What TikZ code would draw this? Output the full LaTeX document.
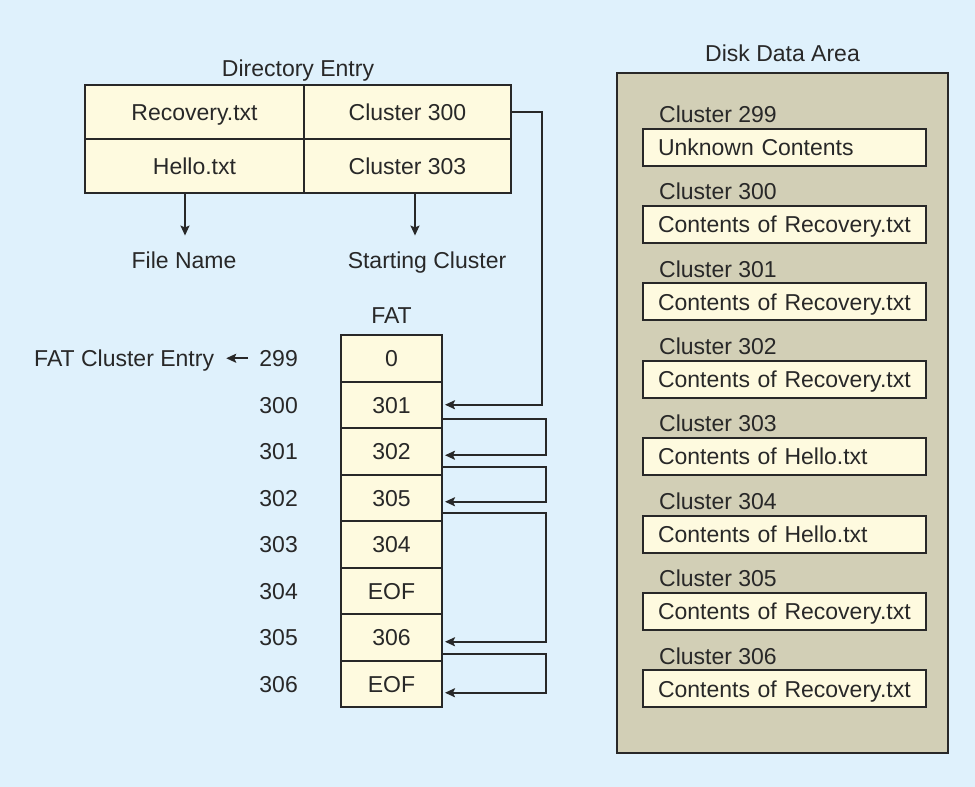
\documentclass[tikz,border=0pt]{standalone}
\usepackage{fontspec}
\setmainfont{Liberation Sans}
\usetikzlibrary{positioning,arrows.meta}
\definecolor{bgblue}{RGB}{223,241,252}
\definecolor{cellyellow}{RGB}{254,250,223}
\definecolor{diskkhaki}{RGB}{210,207,182}
\definecolor{inkgray}{RGB}{40,40,40}
\tikzset{
	txt/.style={text=inkgray, font=\fontsize{23}{27}\selectfont, inner sep=2pt, text height=16.5pt, text depth=0pt},
	dircell/.style={txt, draw=inkgray, line width=2pt, fill=cellyellow, minimum height=54pt, inner sep=0pt, outer sep=0pt},
	fatcell/.style={txt, draw=inkgray, line width=2pt, fill=cellyellow, minimum width=101pt, minimum height=46.5pt, inner sep=0pt, outer sep=0pt},
	diskcell/.style={txt, draw=inkgray, line width=2pt, fill=cellyellow, text width=253pt, inner xsep=15pt, inner ysep=0pt, minimum height=37pt, align=left, outer sep=0pt},
	diskbox/.style={draw=inkgray, line width=2pt, fill=diskkhaki, minimum width=331pt, minimum height=680pt, outer sep=0pt},
	link/.style={draw=inkgray, line width=1.8pt, -{Stealth[length=10pt,width=9pt,inset=2pt]}},
}
\begin{document}
\begin{tikzpicture}[x=1pt,y=-1pt]
	\useasboundingbox (0,0) rectangle (975,787);
	\fill[bgblue] (0,0) rectangle (975,787);
	% directory entry
	\node[txt] (dirtitle) at (298,68) {Directory Entry};
	\node[dircell, minimum width=219pt] (rec) at (194.5,112) {Recovery.txt};
	\node[dircell, minimum width=207pt, right=0pt of rec] (c300) {Cluster 300};
	\node[dircell, minimum width=219pt, below=0pt of rec] (hello) {Hello.txt};
	\node[dircell, minimum width=207pt, below=0pt of c300] (c303) {Cluster 303};
	\node[txt] (fname) at (184,260) {File Name};
	\node[txt] (scluster) at (427,260) {Starting Cluster};
	\draw[link, shorten >=14pt] (hello.south -| 185,0) -- (fname.north -| 185,0);
	\draw[link, shorten >=14pt] (c303.south -| 415,0) -- (scluster.north -| 415,0);
	% FAT
	\node[fatcell] (f299) at (391.5,358.25) {0};
	\node[fatcell, below=0pt of f299] (f300) {301};
	\node[fatcell, below=0pt of f300] (f301) {302};
	\node[fatcell, below=0pt of f301] (f302) {305};
	\node[fatcell, below=0pt of f302] (f303) {304};
	\node[fatcell, below=0pt of f303] (f304) {EOF};
	\node[fatcell, below=0pt of f304] (f305) {306};
	\node[fatcell, below=0pt of f305] (f306) {EOF};
	\node[txt, above=9pt of f299] (fattitle) {FAT};
	\node[txt, left=41pt of f299] (l299) {299};
	\node[txt, left=41pt of f300] (l300) {300};
	\node[txt, left=41pt of f301] (l301) {301};
	\node[txt, left=41pt of f302] (l302) {302};
	\node[txt, left=41pt of f303] (l303) {303};
	\node[txt, left=41pt of f304] (l304) {304};
	\node[txt, left=41pt of f305] (l305) {305};
	\node[txt, left=41pt of f306] (l306) {306};
	\node[txt, left=41pt of l299] (fce) {FAT Cluster Entry};
	\draw[link, shorten <=9pt, shorten >=10pt] (l299.west) -- (fce.east);
	% cluster chains
	\draw[link, shorten >=3pt] (c300.east) -- ++(31,0) |- (f300.east);
	\draw[link, shorten >=3pt] ([yshift=-14.5pt]f300.east) -- ++(104,0) |- ([yshift=-4pt]f301.east);
	\draw[link, shorten >=3pt] ([yshift=-16pt]f301.east) -- ++(104,0) |- ([yshift=-4pt]f302.east);
	\draw[link, shorten >=3pt] ([yshift=-15.5pt]f302.east) -- ++(104,0) |- ([yshift=-4.5pt]f305.east);
	\draw[link, shorten >=3pt] ([yshift=-16.5pt]f305.east) -- ++(104,0) |- ([yshift=-9pt]f306.east);
	% disk data area
	\node[diskbox] (disk) at (782.5,413) {};
	\node[txt, above=9pt of disk] (disktitle) {Disk Data Area};
	\node[diskcell] (d299) at (784.5,147) {Unknown Contents};
	\node[diskcell, below=40.4pt of d299] (d300) {Contents of Recovery.txt};
	\node[diskcell, below=40.4pt of d300] (d301) {Contents of Recovery.txt};
	\node[diskcell, below=40.4pt of d301] (d302) {Contents of Recovery.txt};
	\node[diskcell, below=40.4pt of d302] (d303) {Contents of Hello.txt};
	\node[diskcell, below=40.4pt of d303] (d304) {Contents of Hello.txt};
	\node[diskcell, below=40.4pt of d304] (d305) {Contents of Recovery.txt};
	\node[diskcell, below=40.4pt of d305] (d306) {Contents of Recovery.txt};
	\node[txt, above right=4pt and 14pt of d299.north west] (n299) {Cluster 299};
	\node[txt, above right=4pt and 14pt of d300.north west] (n300) {Cluster 300};
	\node[txt, above right=4pt and 14pt of d301.north west] (n301) {Cluster 301};
	\node[txt, above right=4pt and 14pt of d302.north west] (n302) {Cluster 302};
	\node[txt, above right=4pt and 14pt of d303.north west] (n303) {Cluster 303};
	\node[txt, above right=4pt and 14pt of d304.north west] (n304) {Cluster 304};
	\node[txt, above right=4pt and 14pt of d305.north west] (n305) {Cluster 305};
	\node[txt, above right=4pt and 14pt of d306.north west] (n306) {Cluster 306};
\end{tikzpicture}
\end{document}
